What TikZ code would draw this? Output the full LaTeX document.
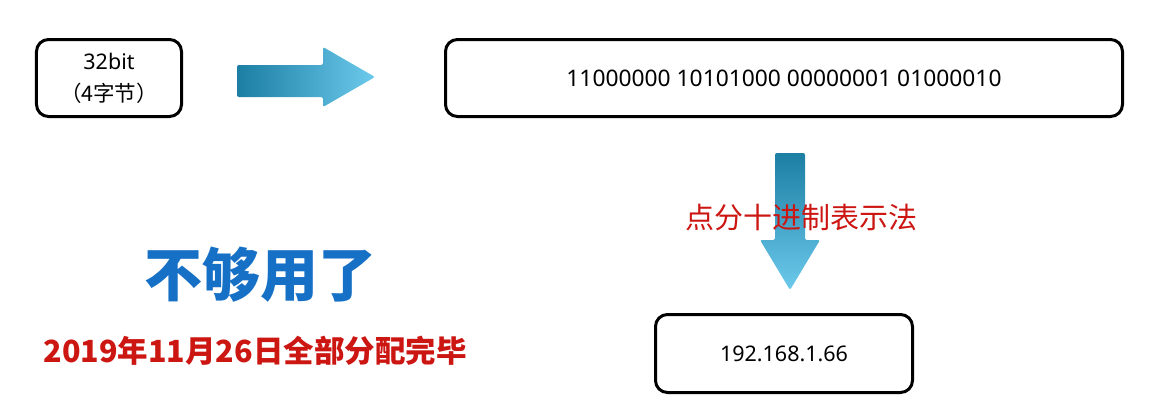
\documentclass[tikz,border=0pt]{standalone}
\usepackage{fontspec}
\setmainfont{Noto Sans}
\newfontfamily\cjk{Noto Sans CJK SC}
\definecolor{arrowdark}{RGB}{28,126,163}
\definecolor{arrowlight}{RGB}{108,202,236}
\definecolor{titleblue}{RGB}{22,112,198}
\definecolor{notered}{RGB}{204,22,18}
\tikzset{
  bitbox/.style={draw, line width=3bp, rounded corners=12bp, align=center,
    font=\fontsize{21.5bp}{32bp}\selectfont},
  fatarrow/.style={rounded corners=2bp}
}
\begin{document}
\begin{tikzpicture}[x=1bp,y=-1bp]%
\useasboundingbox (0,0) rectangle (1157,419);
\node[bitbox, minimum width=145bp, minimum height=77bp] (bits) at (109,78) {32bit\\{\cjk（4字节）}};
\node[bitbox, minimum width=677bp, minimum height=77bp, font=\fontsize{22.8bp}{27bp}\selectfont] (binary) at (784,78) {11000000 10101000 00000001 01000010};
\node[bitbox, minimum width=257bp, minimum height=78bp] (dotted) at (784,353.5) {192.168.1.66};
% arrows
\shade[fatarrow, left color=arrowdark, right color=arrowlight]
 (237,65) -- (323,65) -- (323,47) -- (375,77) -- (323,107) -- (323,97) -- (237,97) -- cycle;
\shade[fatarrow, top color=arrowdark, bottom color=arrowlight]
 (775,153) -- (805,153) -- (805,240) -- (820,240) -- (790,290) -- (760,240) -- (775,240) -- cycle;
\node[text=notered, font=\fontsize{29bp}{32bp}\selectfont\cjk] (method) at (801,218) {点分十进制表示法};
\node[text=titleblue, font=\fontsize{58bp}{62bp}\selectfont\cjk\bfseries] (enough) at (260,275) {不够用了};
\node[text=notered, font=\fontsize{30.5bp}{34bp}\selectfont\cjk\bfseries] (date) at (255,351) {2019年11月26日全部分配完毕};
\end{tikzpicture}
\end{document}
